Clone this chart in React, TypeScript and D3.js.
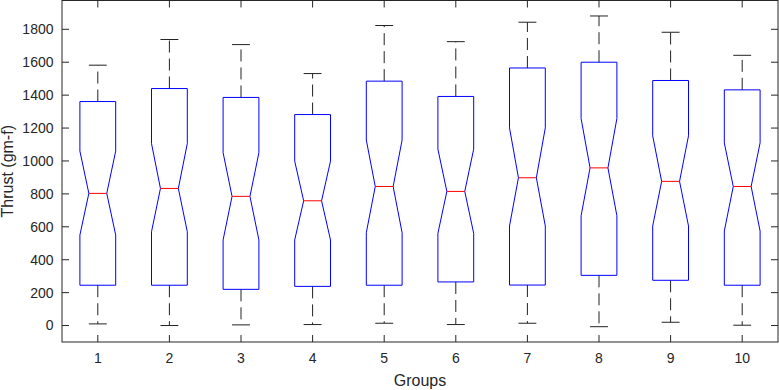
import React from "react";
import * as d3 from "d3";

const groups = ["1", "2", "3", "4", "5", "6", "7", "8", "9", "10"];
const upperWhisker = [1582, 1738, 1707, 1531, 1823, 1725, 1843, 1881, 1782, 1642];
const q3 = [1361, 1440, 1386, 1282, 1485, 1392, 1565, 1600, 1489, 1432];
const notchHigh = [1060, 1106, 1050, 999, 1127, 1072, 1201, 1258, 1153, 1110];
const medians = [803, 833, 785, 758, 845, 815, 898, 958, 876, 845];
const notchLow = [550, 570, 520, 520, 564, 560, 605, 667, 605, 574];
const q1 = [245, 245, 220, 238, 245, 265, 246, 305, 275, 245];
const lowerWhisker = [10, 0, 4, 6, 14, 6, 14, -7, 20, 2];
const yTicks = [0, 200, 400, 600, 800, 1000, 1200, 1400, 1600, 1800];

const W = 779;
const H = 390;
const left = 62;
const right = 778;
const top = 0.5;
const bottom = 342;
const axisColor = "#262626";
const font = "'Liberation Sans', Arial, sans-serif";

export default function App() {
  const x = d3.scaleLinear().domain([0.5, groups.length + 0.5]).range([left, right]);
  const y = d3.scaleLinear().domain([-100, 1975]).range([bottom, top]);
  const unit = x(2) - x(1);
  const hw = 0.25 * unit;
  const nw = 0.125 * unit;
  const tickLen = 7;

  return (
    <svg
      width={W}
      height={H}
      style={{ position: "absolute", left: 0, top: 0, background: "#fff" }}
      fontFamily={font}
    >
      <rect x={0} y={0} width={W} height={H} fill="#fff" />
      {groups.map((g, i) => {
        const cx = x(i + 1);
        const pts: [number, number][] = [
          [cx - hw, y(q1[i])],
          [cx - hw, y(notchLow[i])],
          [cx - nw, y(medians[i])],
          [cx - hw, y(notchHigh[i])],
          [cx - hw, y(q3[i])],
          [cx + hw, y(q3[i])],
          [cx + hw, y(notchHigh[i])],
          [cx + nw, y(medians[i])],
          [cx + hw, y(notchLow[i])],
          [cx + hw, y(q1[i])],
        ];
        const line = d3.line();
        return (
          <g key={g}>
            <line
              x1={cx}
              x2={cx}
              y1={y(q3[i])}
              y2={y(upperWhisker[i])}
              stroke="#222"
              strokeWidth={1}
              strokeDasharray="12,6"
            />
            <line
              x1={cx}
              x2={cx}
              y1={y(q1[i])}
              y2={y(lowerWhisker[i])}
              stroke="#222"
              strokeWidth={1}
              strokeDasharray="12,6"
            />
            <line x1={cx - nw} x2={cx + nw} y1={y(upperWhisker[i])} y2={y(upperWhisker[i])} stroke="#222" strokeWidth={1} />
            <line x1={cx - nw} x2={cx + nw} y1={y(lowerWhisker[i])} y2={y(lowerWhisker[i])} stroke="#222" strokeWidth={1} />
            <path d={line(pts) + "Z"} fill="none" stroke="#0000ff" strokeWidth={1} />
            <line x1={cx - nw} x2={cx + nw} y1={y(medians[i])} y2={y(medians[i])} stroke="#ff0000" strokeWidth={1} />
          </g>
        );
      })}
      {/* axes box */}
      <rect x={left} y={top} width={right - left} height={bottom - top} fill="none" stroke={axisColor} strokeWidth={1} />
      {yTicks.map((t) => (
        <g key={"y" + t}>
          <line x1={left} x2={left + tickLen} y1={y(t)} y2={y(t)} stroke={axisColor} />
          <line x1={right - tickLen} x2={right} y1={y(t)} y2={y(t)} stroke={axisColor} />
          <text x={left - 8.5} y={y(t)} dy="0.35em" textAnchor="end" fontSize={14} fill={axisColor}>
            {t}
          </text>
        </g>
      ))}
      {groups.map((g, i) => (
        <g key={"x" + g}>
          <line x1={x(i + 1)} x2={x(i + 1)} y1={bottom} y2={bottom - tickLen} stroke={axisColor} />
          <line x1={x(i + 1)} x2={x(i + 1)} y1={top} y2={top + tickLen} stroke={axisColor} />
          <text x={x(i + 1)} y={363} textAnchor="middle" fontSize={14} fill={axisColor}>
            {g}
          </text>
        </g>
      ))}
      <text x={(left + right) / 2} y={386} textAnchor="middle" fontSize={16} fill={axisColor}>
        Groups
      </text>
      <text
        transform={`translate(13,${(top + bottom) / 2}) rotate(-90)`}
        textAnchor="middle"
        fontSize={16}
        fill={axisColor}
      >
        Thrust (gm-f)
      </text>
    </svg>
  );
}
